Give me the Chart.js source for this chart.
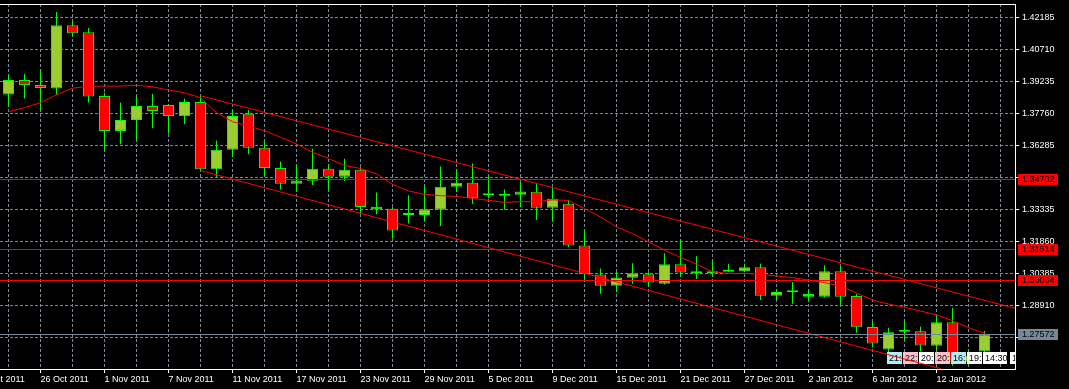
<!DOCTYPE html>
<html>
<head>
<meta charset="utf-8">
<title>EURUSD Daily</title>
<script src="https://cdn.jsdelivr.net/npm/chart.js@4.4.0/dist/chart.umd.min.js"></script>
<style>
html, body { margin: 0; padding: 0; background: #000; }
#wrap { width: 1069px; height: 389px; }
</style>
</head>
<body>
<div id="wrap"><canvas id="priceChart" width="1069" height="389"></canvas></div>
<script>
// Daily candles, index 0 = 24 Oct 2011 ... index 61 = 17 Jan 2012
const openP = [1.38638,1.39300,1.39070,1.38914,1.41827,1.41505,1.38565,1.36957,1.37462,1.38106,
  1.38152,1.37628,1.38289,1.35194,1.36085,1.37743,1.36177,1.35249,1.34523,1.34661,
  1.35213,1.34841,1.35162,1.33343,1.33375,1.33076,1.33080,1.33329,1.34385,1.34569,
  1.34066,1.33970,1.34018,1.34155,1.33421,1.33604,1.31675,1.30342,1.29819,1.30186,
  1.30356,1.29911,1.30816,1.30402,1.30402,1.30462,1.30494,1.30678,1.29359,1.29516,
  1.29313,1.29313,1.30494,1.29346,1.27921,1.26879,1.27697,1.27724,1.27049,1.28138,
  1.26314,1.26787];
const highP = [1.39544,1.39590,1.39759,1.42438,1.42011,1.41703,1.38716,1.38257,1.38533,1.38670,
  1.38188,1.38441,1.38592,1.36512,1.37927,1.37923,1.36466,1.35548,1.35410,1.36131,
  1.35410,1.35672,1.35282,1.34123,1.33435,1.33986,1.34399,1.35318,1.35180,1.35456,
  1.34859,1.34261,1.34597,1.34523,1.34321,1.33756,1.32378,1.30618,1.30480,1.30862,
  1.30448,1.31321,1.31964,1.31183,1.30968,1.30830,1.30830,1.30830,1.29653,1.29989,
  1.29667,1.30770,1.30724,1.29437,1.28197,1.27889,1.28211,1.27935,1.28459,1.28809,
  1.26865,1.27738];
const lowP = [1.38073,1.38455,1.37949,1.38611,1.41303,1.38271,1.36067,1.36342,1.36512,1.37078,
  1.36833,1.37260,1.35088,1.34813,1.35745,1.35883,1.34928,1.34261,1.34183,1.34459,
  1.34215,1.34643,1.33145,1.33113,1.31996,1.32686,1.32806,1.32571,1.34137,1.33604,
  1.33848,1.33329,1.33448,1.32851,1.32806,1.31611,1.30081,1.29451,1.29516,1.29911,
  1.29773,1.29874,1.30232,1.30127,1.30232,1.30448,1.30448,1.29162,1.29162,1.28992,
  1.29130,1.29277,1.28932,1.27659,1.26971,1.26727,1.27357,1.26787,1.26865,1.26130,
  1.26130,1.26636];
const closeP = [1.39300,1.39070,1.38932,1.41827,1.41459,1.38547,1.36957,1.37462,1.38106,1.37876,
  1.37646,1.38289,1.35194,1.36090,1.37646,1.36177,1.35249,1.34523,1.34675,1.35213,
  1.34841,1.35162,1.33448,1.33467,1.32364,1.33089,1.33343,1.34385,1.34569,1.33848,
  1.33986,1.34032,1.34169,1.33421,1.33834,1.31675,1.30356,1.29819,1.30204,1.30402,
  1.29975,1.30816,1.30434,1.30494,1.30480,1.30540,1.30678,1.29359,1.29529,1.29539,
  1.29437,1.30494,1.29313,1.27907,1.27154,1.27678,1.27715,1.27063,1.28138,1.26314,
  1.26590,1.27572];

// moving average (red line)
const maVals = [1.37844,1.38028,1.38258,1.38625,1.38924,1.39015,1.39025,1.39025,1.39062,1.38992,
  1.38841,1.38717,1.38487,1.37798,1.37385,1.37178,1.36972,1.36664,1.36361,1.35975,
  1.35685,1.35364,1.35226,1.34983,1.34491,1.34193,1.34032,1.33972,1.33940,1.33848,
  1.33756,1.33664,1.33697,1.33697,1.33779,1.33756,1.33375,1.32989,1.32530,1.32227,
  1.31841,1.31459,1.31124,1.30816,1.30462,1.30389,1.30389,1.30356,1.30265,1.30196,
  1.30081,1.29966,1.29805,1.29484,1.29162,1.28978,1.28827,1.28657,1.28473,1.28211,
  1.27889,1.27632];

// channel trendlines (candle index, price)
const upperX = [12, 62.91];
const upperY = [1.3858, 1.2878];
const lowerX = [12, 58.3];
const lowerY = [1.3513, 1.2599];

// horizontal levels
const levelValues = [1.34702, 1.31514, 1.30064, 1.27572];
const levelColors = ['#ff0000', '#ff0000', '#ff0000', '#778899'];

// axis ticks
const yTicks = [1.42185,1.40710,1.39235,1.37760,1.36285,1.34810,1.33335,1.31860,1.30385,1.28910,1.27435];
const tickIdx = [-2, 2, 6, 10, 14, 18, 22, 26, 30, 34, 38, 42, 46, 50, 54, 58];
const tickLabels = ['20 Oct 2011','26 Oct 2011','1 Nov 2011','7 Nov 2011','11 Nov 2011','17 Nov 2011',
  '23 Nov 2011','29 Nov 2011','5 Dec 2011','9 Dec 2011','15 Dec 2011','21 Dec 2011',
  '27 Dec 2011','2 Jan 2012','6 Jan 2012','12 Jan 2012'];

// time label boxes along the bottom
const boxIdx = [55, 56, 57, 58, 59, 60, 61, 62.7];
const boxText = ['21:', '22:', '20:', '20:', '16:', '19:', '14:30', '1'];
const boxFill = ['#b4ecf4', '#ffc0cb', '#ffffff', '#ffc0cb', '#b4ecf4', '#ffffff', '#ffffff', '#ffffff'];
const boxWidth = [15, 15, 15, 15, 15, 15, 24, 15];
const boxPrice = 1.2675;

const X_MIN = -0.53125, X_MAX = 62.90625;
const Y_MIN = 1.25983, Y_MAX = 1.42807;
const FONT = '"Liberation Sans", Arial, sans-serif';
const BODY_SET = 3;

const idx = openP.map((_, i) => i);
const gridIdx = Array.from({ length: 32 }, (_, k) => 2 * k);

Chart.defaults.font.family = FONT;
Chart.defaults.font.size = 9;
Chart.defaults.color = '#ffffff';

function yPix(chart, v) {
    return chart.scales.y.getPixelForValue(v);
}

const overlay = {
    id: 'overlay',
    beforeDraw(chart) {
        const c = chart.ctx;
        c.save();
        c.fillStyle = '#000';
        c.fillRect(0, 0, chart.width, chart.height);
        c.restore();
    },
    // time boxes sit above the candles but under the lines
    afterDatasetDraw(chart, args) {
        if (args.index !== BODY_SET) return;
        const c = chart.ctx, xs = chart.scales.x, a = chart.chartArea;
        const top = Math.round(yPix(chart, boxPrice));
        c.save();
        c.beginPath();
        c.rect(a.left, a.top, a.right - a.left, a.bottom - a.top);
        c.clip();
        c.font = '9px ' + FONT;
        c.textBaseline = 'middle';
        boxIdx.forEach((v, k) => {
            const left = Math.floor(xs.getPixelForValue(v)) - 1;
            c.fillStyle = boxFill[k];
            c.fillRect(left, top, boxWidth[k], 12);
            c.save();
            c.beginPath();
            c.rect(left, top, boxWidth[k], 12);
            c.clip();
            c.fillStyle = '#000';
            c.fillText(boxText[k], left + 2, top + 6.5);
            c.restore();
        });
        c.restore();
    },
    afterDatasetsDraw(chart) {
        const c = chart.ctx, a = chart.chartArea;
        c.save();
        c.lineWidth = 1;
        levelValues.forEach((v, k) => {
            const y = Math.floor(yPix(chart, v)) + 0.5;
            c.strokeStyle = levelColors[k];
            c.beginPath();
            c.moveTo(a.left, y);
            c.lineTo(a.right, y);
            c.stroke();
        });
        c.restore();
    },
    afterDraw(chart) {
        const c = chart.ctx, a = chart.chartArea, xs = chart.scales.x;
        c.save();
        // top frame line
        c.strokeStyle = '#ffffff';
        c.lineWidth = 1;
        c.beginPath();
        c.moveTo(a.left, a.top + 0.5);
        c.lineTo(a.right + 0.5, a.top + 0.5);
        c.stroke();

        // price tags on the right axis
        c.font = '9px ' + FONT;
        c.textBaseline = 'middle';
        c.textAlign = 'left';
        levelValues.forEach((v, k) => {
            const y = Math.floor(yPix(chart, v)) + 0.5;
            c.fillStyle = levelColors[k];
            c.fillRect(a.right + 3, y - 5.5, 40, 11);
            c.fillStyle = '#000';
            c.fillText(v.toFixed(5), a.right + 7, y + 0.5);
        });

        // date label left of the visible range
        tickIdx.forEach((v, k) => {
            if (v >= X_MIN) return;
            c.fillStyle = '#ffffff';
            c.fillText(tickLabels[k], xs.getPixelForValue(v), xs.top + 4 + 1 + 5.4);
        });
        c.restore();
    }
};

const ctx = document.getElementById('priceChart').getContext('2d');
new Chart(ctx, {
    type: 'bar',
    data: {
        datasets: [
            {
                type: 'line',
                label: 'MA',
                data: maVals.map((v, i) => ({ x: i, y: v })),
                borderColor: '#ff0000',
                borderWidth: 1,
                pointRadius: 0,
                tension: 0,
                fill: false,
                order: 0
            },
            {
                type: 'line',
                label: 'Upper channel',
                data: upperX.map((v, i) => ({ x: v, y: upperY[i] })),
                borderColor: '#ff0000',
                borderWidth: 1,
                pointRadius: 0,
                fill: false,
                order: 0
            },
            {
                type: 'line',
                label: 'Lower channel',
                data: lowerX.map((v, i) => ({ x: v, y: lowerY[i] })),
                borderColor: '#ff0000',
                borderWidth: 1,
                pointRadius: 0,
                fill: false,
                order: 0
            },
            {
                label: 'Body',
                data: idx.map(i => ({ x: i, y: [openP[i], closeP[i]] })),
                backgroundColor: c => closeP[c.dataIndex] >= openP[c.dataIndex] ? '#9acd32' : '#ff0000',
                borderColor: '#00ff00',
                borderWidth: 1,
                borderSkipped: false,
                barThickness: 11,
                minBarLength: 2,
                inflateAmount: 0,
                grouped: false,
                order: 1
            },
            {
                label: 'Wick',
                data: idx.map(i => ({ x: i, y: [lowP[i], highP[i]] })),
                backgroundColor: '#00ff00',
                borderWidth: 0,
                barThickness: 1,
                inflateAmount: 0,
                grouped: false,
                order: 2
            }
        ]
    },
    options: {
        responsive: false,
        devicePixelRatio: 1,
        animation: false,
        events: [],
        layout: { padding: { top: 4, left: 0, right: 0, bottom: 0 } },
        plugins: {
            legend: { display: false },
            tooltip: { enabled: false }
        },
        scales: {
            x: {
                type: 'linear',
                min: X_MIN,
                max: X_MAX,
                offset: false,
                afterBuildTicks: s => { s.ticks = gridIdx.map(v => ({ value: v })); },
                afterFit: s => { s.height = 20; s.paddingLeft = 0; s.paddingRight = 0; },
                grid: {
                    offset: false,
                    color: '#778899',
                    tickLength: 4,
                    tickColor: c => (c.tick && tickIdx.includes(c.tick.value)) ? '#ffffff' : 'rgba(0,0,0,0)',
                    tickBorderDash: []
                },
                border: { display: true, color: '#ffffff', width: 1, dash: [3, 2] },
                ticks: {
                    autoSkip: false,
                    maxRotation: 0,
                    align: 'start',
                    padding: 1,
                    color: '#ffffff',
                    callback: v => {
                        const k = tickIdx.indexOf(v);
                        return k >= 0 ? tickLabels[k] : '';
                    }
                }
            },
            y: {
                type: 'linear',
                position: 'right',
                min: Y_MIN,
                max: Y_MAX,
                afterBuildTicks: s => { s.ticks = yTicks.map(v => ({ value: v })); },
                afterFit: s => { s.width = 54; s.paddingTop = 0; s.paddingBottom = 0; },
                grid: {
                    color: '#778899',
                    tickLength: 4,
                    tickColor: '#ffffff',
                    tickBorderDash: []
                },
                border: { display: true, color: '#ffffff', width: 1, dash: [3, 2] },
                ticks: {
                    autoSkip: false,
                    padding: 3,
                    color: '#ffffff',
                    callback: v => v.toFixed(5)
                }
            }
        }
    },
    plugins: [overlay]
});
</script>
</body>
</html>
